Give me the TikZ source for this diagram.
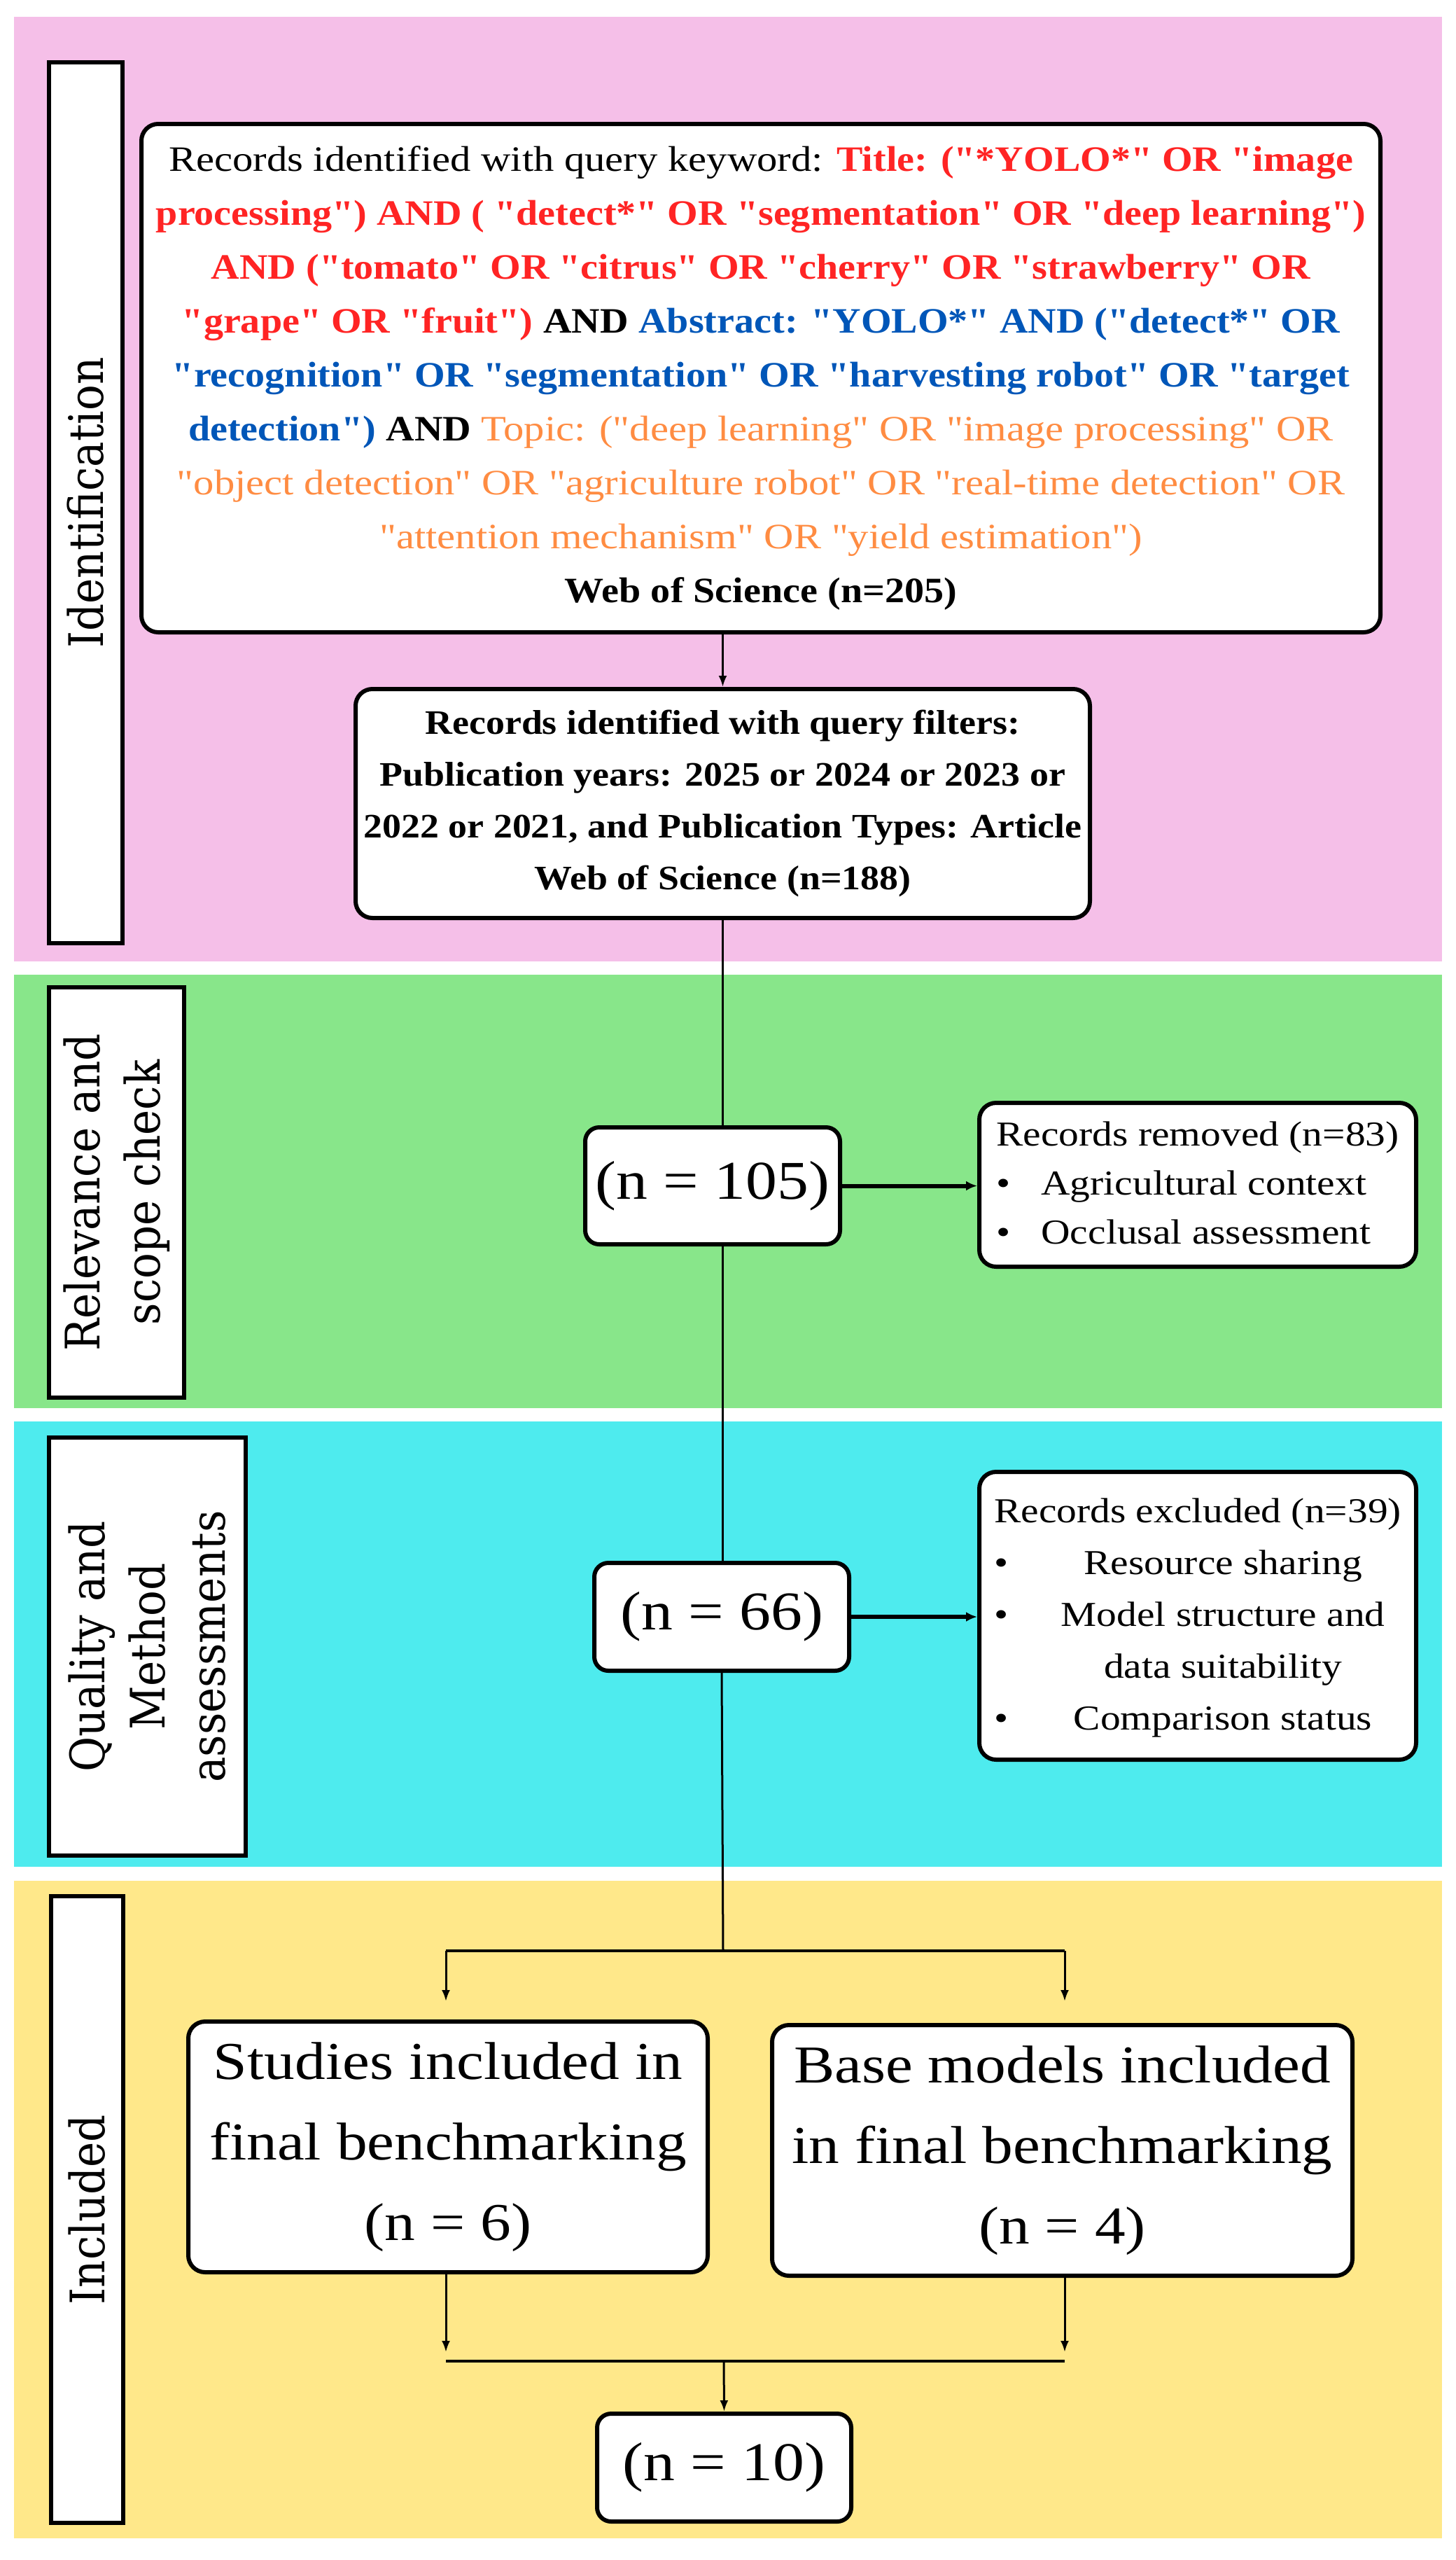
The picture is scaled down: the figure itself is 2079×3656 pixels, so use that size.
\documentclass[tikz,border=0pt]{standalone}
\usepackage{fontspec}
\setmainfont{Liberation Serif}[FakeStretch=1.15, Ligatures=TeXOff, BoldFeatures={FakeStretch=1.1}]
\newfontfamily\labelfont{DejaVu Serif}[FakeStretch=0.9]
\usetikzlibrary{arrows.meta}
\definecolor{bandpink}{HTML}{F5BFE8}
\definecolor{bandgreen}{HTML}{88E68A}
\definecolor{bandcyan}{HTML}{4EEBEE}
\definecolor{bandyellow}{HTML}{FFE88A}
\definecolor{qred}{HTML}{FF2424}
\definecolor{qblue}{HTML}{0056B8}
\definecolor{qorange}{HTML}{FF8C42}
\tikzset{
  band/.style={fill=#1, draw=none},
  rbox/.style={draw=black, line width=3pt, fill=white, rounded corners=12pt, inner sep=0pt, align=center},
  labelbox/.style={draw=black, line width=3pt, fill=white, inner sep=0pt, rotate=90, align=center,
     font=\labelfont\fontsize{34}{43}\selectfont},
  conn/.style={line width=1.5pt, draw=black},
  tip/.style={-{Latex[length=8pt,width=6pt]}},
  bigtip/.style={line width=3pt, draw=black, -{Latex[length=8pt,width=7pt]}},
}
\begin{document}
\begin{tikzpicture}[x=0.5pt,y=-0.5pt]
\useasboundingbox (0,0) rectangle (2079,3656);
\fill[white] (0,0) rectangle (2079,3656);
% bands
\fill[band=bandpink] (20,24) rectangle (2060,1373);
\fill[band=bandgreen] (20,1392) rectangle (2060,2011);
\fill[band=bandcyan] (20,2030) rectangle (2060,2666);
\fill[band=bandyellow] (20,2686) rectangle (2060,3625);
% stage labels
\node[labelbox, minimum width=629pt, minimum height=52.5pt] (lab1) at (122.5,718) {Identification};
\node[labelbox, minimum width=293pt, minimum height=96.5pt] (lab2) at (166.5,1703) {Relevance and\\scope check};
\node[labelbox, minimum width=298.5pt, minimum height=140.5pt] (lab3) at (210.5,2351.5) {Quality and\\Method\\assessments};
\node[labelbox, minimum width=447.5pt, minimum height=51.5pt] (lab4) at (124.5,3155.5) {Included};
% boxes
\node[rbox, minimum width=885pt, minimum height=363pt, font=\fontsize{25.5}{38.5}\selectfont] (query) at (1087,540) {%
Records identified with query keyword: \textcolor{qred}{\bfseries Title: ("*YOLO*" OR "image}\\
\textcolor{qred}{\bfseries processing") AND ( "detect*" OR "segmentation" OR "deep learning")}\\
\textcolor{qred}{\bfseries AND ("tomato" OR "citrus" OR "cherry" OR "strawberry" OR}\\
\textcolor{qred}{\bfseries "grape" OR "fruit")} \textbf{AND} \textcolor{qblue}{\bfseries Abstract: "YOLO*" AND ("detect*" OR}\\
\textcolor{qblue}{\bfseries "recognition" OR "segmentation" OR "harvesting robot" OR "target}\\
\textcolor{qblue}{\bfseries detection")} \textbf{AND} \textcolor{qorange}{Topic: ("deep learning" OR "image processing" OR}\\
\textcolor{qorange}{"object detection" OR "agriculture robot" OR "real-time detection" OR}\\
\textcolor{qorange}{"attention mechanism" OR "yield estimation")}\\
\textbf{Web of Science (n=205)}};
\node[rbox, minimum width=524.5pt, minimum height=163.5pt, font=\bfseries\fontsize{24.5}{37}\selectfont] (filter) at (1032.5,1147.5) {%
Records identified with query filters:\\
Publication years: 2025 or 2024 or 2023 or\\
2022 or 2021, and Publication Types: Article\\
Web of Science (n=188)};
\node[rbox, rounded corners=10pt, minimum width=182pt, minimum height=83.5pt, font=\fontsize{39}{46}\selectfont] (n105) at (1018,1693.5) {(n = 105)};
\node[rbox, minimum width=312pt, minimum height=117pt, font=\fontsize{25}{35}\selectfont] (removed) at (1711,1692) {%
\begin{tabular}{@{}l@{\hspace{22pt}}l@{}}
\multicolumn{2}{@{}c@{}}{Records removed (n=83)}\\
\textbullet & Agricultural context\\
\textbullet & Occlusal assessment
\end{tabular}};
\node[rbox, rounded corners=10pt, minimum width=182pt, minimum height=77pt, font=\fontsize{39}{46}\selectfont] (n66) at (1031,2309) {(n = 66)};
\node[rbox, minimum width=312pt, minimum height=205.5pt, font=\fontsize{25}{37}\selectfont] (excluded) at (1711,2307.5) {%
\begin{tabular}{@{}c@{\hspace{26pt}}c@{}}
\multicolumn{2}{@{}c@{}}{Records excluded (n=39)}\\
\textbullet & Resource sharing\\
\textbullet & Model structure and\\
 & data suitability\\
\textbullet & Comparison status
\end{tabular}};
\node[rbox, minimum width=371pt, minimum height=179pt, font=\fontsize{38}{57.5}\selectfont] (studies) at (640,3066) {%
Studies included in\\final benchmarking\\(n = 6)};
\node[rbox, minimum width=414.5pt, minimum height=179pt, font=\fontsize{38}{57.5}\selectfont] (base) at (1517.5,3071) {%
Base models included\\in final benchmarking\\(n = 4)};
\node[rbox, rounded corners=10pt, minimum width=181.5pt, minimum height=77pt, font=\fontsize{39}{46}\selectfont] (n10) at (1034.5,3524) {(n = 10)};
% coordinates
\coordinate (split) at (1033,2786);
\coordinate (splitL) at (637,2786);
\coordinate (splitR) at (1521,2786);
\coordinate (tipL) at (637,2858);
\coordinate (tipR) at (1521,2858);
\coordinate (mergeL) at (637,3372);
\coordinate (mergeR) at (1521,3372);
\coordinate (merge) at (1034,3372);
\coordinate (mtip) at (1034,3359);
% connectors
\draw[conn, tip] (filter.north |- query.south) -- (filter.north);
\draw[conn] (filter.south) -- (filter.south |- n105.north);
\draw[conn] (filter.south |- n105.south) -- (filter.south |- n66.north);
\draw[conn] (n66.south) -- (split);
\draw[conn, line width=2pt] (splitL) -- (splitR);
\draw[conn, tip] (splitL) -- (tipL);
\draw[conn, tip] (splitR) -- (tipR);
\draw[conn, tip] (studies.south -| splitL) -- (mtip -| splitL);
\draw[conn, tip] (base.south -| splitR) -- (mtip -| splitR);
\draw[conn, line width=2pt] (mergeL) -- (mergeR);
\draw[conn, tip] (merge) -- (n10.north);
\draw[bigtip] (n105.east) -- (n105.east -| removed.west);
\draw[bigtip] (n66.east) -- (n66.east -| excluded.west);
\end{tikzpicture}
\end{document}
